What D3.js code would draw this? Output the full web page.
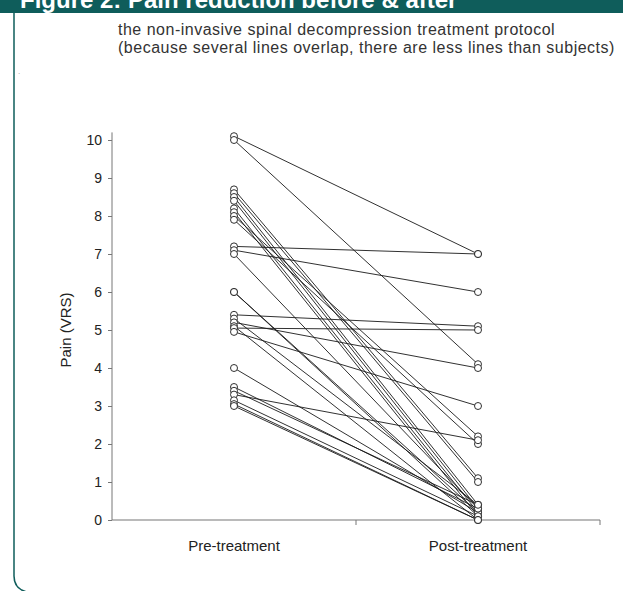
<!DOCTYPE html>
<html>
<head>
<meta charset="utf-8">
<script src="https://cdn.jsdelivr.net/npm/d3@7"></script>
<style>
  body { margin: 0; background: #fff; }
  svg { display: block; font-family: "Liberation Sans", Arial, sans-serif; }
</style>
</head>
<body>
<svg id="chart" width="623" height="591"></svg>
<script>
// categories on the x axis
var phases = ["Pre-treatment", "Post-treatment"];

// pain score per subject, before and after
var pre  = [10.1, 10.0, 8.7, 8.6, 8.5, 8.4, 8.2, 8.1, 8.0, 7.9, 7.2, 7.1, 7.0, 6.0, 6.0,
            5.4, 5.3, 5.2, 5.1, 5.05, 4.95, 4.0, 3.5, 3.4, 3.3, 3.15, 3.05, 3.0];
var post = [7.0, 4.1, 1.1, 1.0, 0.4, 0.3, 0.2, 0.1, 2.2, 2.0, 7.0, 6.0, 0.3, 0.2, 0.1,
            5.1, 0.4, 4.0, 0.0, 5.0, 3.0, 0.2, 0.3, 0.4, 2.1, 0.1, 0.0, 0.0];

// y tick labels
var yTicks = [0, 1, 2, 3, 4, 5, 6, 7, 8, 9, 10];

var teal = "#0f5d5b";
var svg = d3.select("#chart");

// header banner, title cut off at the top
svg.append("rect").attr("x", 0).attr("y", 0).attr("width", 623).attr("height", 13).attr("fill", teal);
svg.append("text")
    .attr("x", 20).attr("y", 8)
    .attr("fill", "#fff")
    .style("font-size", "24px")
    .attr("font-weight", "bold")
    .text("Figure 2: Pain reduction before & after");

// frame line on the left with rounded bottom corner
svg.append("path")
    .attr("d", "M14,13 L14,576 Q14,589 27,592")
    .attr("fill", "none")
    .attr("stroke", teal)
    .attr("stroke-width", 1.5);

// subtitle
var sub = svg.append("g").attr("fill", "#333").style("font-size", "16px").style("letter-spacing", "0.5px");
sub.append("text").attr("x", 118).attr("y", 35).text("the non-invasive spinal decompression treatment protocol");
sub.append("text").attr("x", 118).attr("y", 53).text("(because several lines overlap, there are less lines than subjects)");
svg.append("text").attr("x", 18).attr("y", 74).attr("fill", "#999").style("font-size", "8px").text(".");

// scales
var x = d3.scaleBand().domain(phases).range([112, 600]);
var y = d3.scaleLinear().domain([0, 10]).range([520, 140]);

// y axis
var yAxis = svg.append("g")
    .attr("transform", "translate(112,0)")
    .call(d3.axisLeft(y).tickValues(yTicks).tickSize(4).tickPadding(6));
yAxis.select(".domain").remove();
yAxis.selectAll(".tick line").attr("stroke", "#777");
yAxis.selectAll(".tick text")
    .attr("fill", "#222")
    .style("font-size", "14px")
    .style("font-family", "Liberation Sans, Arial, sans-serif");
svg.append("line")
    .attr("x1", 112).attr("x2", 112)
    .attr("y1", y(0)).attr("y2", y(10.2))
    .attr("stroke", "#777");

// x axis, ticks at band edges
svg.append("line")
    .attr("x1", x.range()[0]).attr("x2", x.range()[1])
    .attr("y1", y(0)).attr("y2", y(0))
    .attr("stroke", "#777").attr("stroke-width", 1.2);
svg.selectAll(".xtick")
    .data(phases.map(function (p) { return x(p) + x.bandwidth(); }))
    .enter().append("line")
    .attr("class", "xtick")
    .attr("x1", function (d) { return d; }).attr("x2", function (d) { return d; })
    .attr("y1", y(0)).attr("y2", y(0) + 5)
    .attr("stroke", "#777");
svg.selectAll(".xlabel")
    .data(phases)
    .enter().append("text")
    .attr("class", "xlabel")
    .attr("x", function (d) { return x(d) + x.bandwidth() / 2; })
    .attr("y", 551)
    .attr("text-anchor", "middle")
    .attr("fill", "#222")
    .style("font-size", "15px")
    .text(function (d) { return d; });

// y axis title
svg.append("text")
    .attr("transform", "translate(71,330) rotate(-90)")
    .attr("text-anchor", "middle")
    .attr("fill", "#222")
    .style("font-size", "15px")
    .text("Pain (VRS)");

// subject lines
var cx0 = x(phases[0]) + x.bandwidth() / 2;
var cx1 = x(phases[1]) + x.bandwidth() / 2;
var subjects = pre.map(function (v, i) { return { pre: v, post: post[i] }; });

svg.append("g").selectAll("line")
    .data(subjects)
    .enter().append("line")
    .attr("x1", cx0).attr("x2", cx1)
    .attr("y1", function (d) { return y(d.pre); })
    .attr("y2", function (d) { return y(d.post); })
    .attr("stroke", "#1a1a1a")
    .attr("stroke-width", 0.9);

// markers at both ends
var marks = svg.append("g");
marks.selectAll(".pre")
    .data(subjects)
    .enter().append("circle")
    .attr("class", "pre")
    .attr("cx", cx0)
    .attr("cy", function (d) { return y(d.pre); })
    .attr("r", 3.5);
marks.selectAll(".post")
    .data(subjects)
    .enter().append("circle")
    .attr("class", "post")
    .attr("cx", cx1)
    .attr("cy", function (d) { return y(d.post); })
    .attr("r", 3.5);
marks.selectAll("circle")
    .attr("fill", "#fff")
    .attr("stroke", "#1a1a1a")
    .attr("stroke-width", 0.9);
</script>
</body>
</html>
